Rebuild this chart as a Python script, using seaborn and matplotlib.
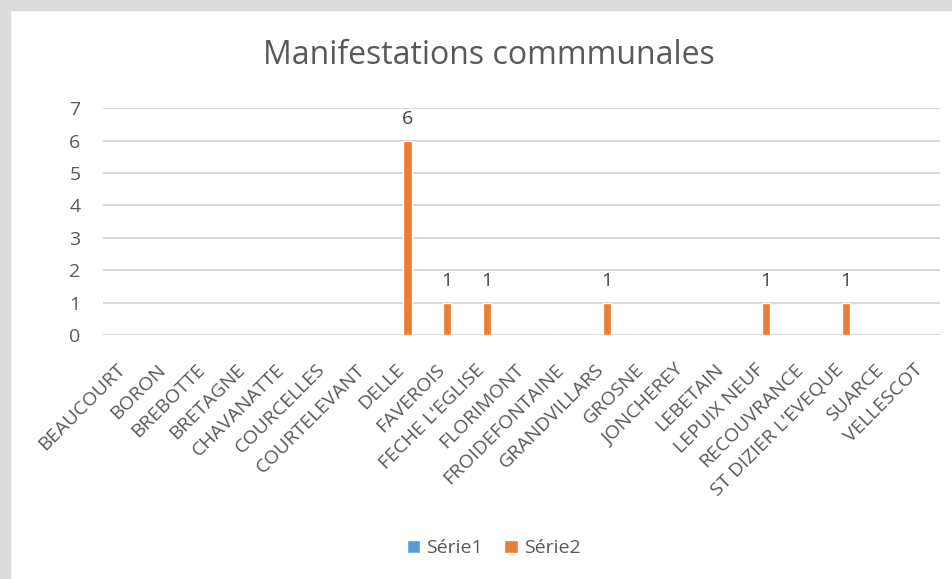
import numpy as np
import pandas as pd
import matplotlib
matplotlib.use("Agg")
import matplotlib.pyplot as plt
from matplotlib.patches import Patch, Rectangle
import seaborn as sns

sns.set_style("white")
plt.rcParams['font.family'] = ['Open Sans', 'DejaVu Sans']

# données
communes = ["BEAUCOURT", "BORON", "BREBOTTE", "BRETAGNE", "CHAVANATTE", "COURCELLES",
            "COURTELEVANT", "DELLE", "FAVEROIS", "FECHE L'EGLISE", "FLORIMONT",
            "FROIDEFONTAINE", "GRANDVILLARS", "GROSNE", "JONCHEREY", "LEBETAIN",
            "LEPUIX NEUF", "RECOUVRANCE", "ST DIZIER L'EVEQUE", "SUARCE", "VELLESCOT"]
serie1 = [0] * 21
serie2 = [0, 0, 0, 0, 0, 0, 0, 6, 1, 1, 0, 0, 1, 0, 0, 0, 1, 0, 1, 0, 0]
series = ["Série1", "Série2"]
colors = ["#5B9BD5", "#ED7D31"]

df = pd.DataFrame({
    "commune": communes * 2,
    "valeur": serie1 + serie2,
    "serie": [series[0]] * len(communes) + [series[1]] * len(communes),
})

fig = plt.figure(figsize=(9.53, 5.79), dpi=100)
ax = fig.add_axes([0.1078, 0.4214, 0.8786, 0.3917])

sns.barplot(data=df, x="commune", y="valeur", hue="serie", palette=colors,
            width=0.56, gap=0.25, ax=ax, legend=False, saturation=1)

ax.set_ylim(0, 7)
ax.set_xlim(-0.5, len(communes) - 0.5)
ax.set_yticks(range(8))
ax.yaxis.grid(True, color="#D9D9D9", linewidth=1.5)
ax.set_axisbelow(True)
for s in ax.spines.values():
    s.set_visible(False)
ax.set_xlabel("")
ax.set_ylabel("")
ax.tick_params(axis="y", length=0, pad=16, labelsize=14, labelcolor="#595959")
ax.tick_params(axis="x", length=0, pad=23, labelsize=14, labelcolor="#595959")
plt.setp(ax.get_xticklabels(), rotation=45, ha="right", va="center",
         rotation_mode="anchor")

# étiquettes de données
cont = ax.containers[1]
ax.bar_label(cont, labels=[str(v) if v else "" for v in serie2],
             padding=9, fontsize=14, color="#404040")

fig.text(0.513, 0.905, "Manifestations commmunales", ha="center", va="center",
         fontsize=23, color="#595959")

handles = [Patch(facecolor=c, label=s) for c, s in zip(colors, series)]
fig.legend(handles=handles, loc="center", bbox_to_anchor=(0.518, 0.053), ncol=2,
           frameon=False, fontsize=14, handlelength=0.7, handleheight=0.7,
           handletextpad=0.3, columnspacing=1.1, labelcolor="#595959")

# cadre gris
fig.patches.append(Rectangle((0, 0), 10 / 953, 1, transform=fig.transFigure,
                             color="#DCDCDC", zorder=-1))
fig.patches.append(Rectangle((0, 1 - 10 / 579), 1, 10 / 579, transform=fig.transFigure,
                             color="#DCDCDC", zorder=-1))

fig.savefig("out.png", dpi=100)
